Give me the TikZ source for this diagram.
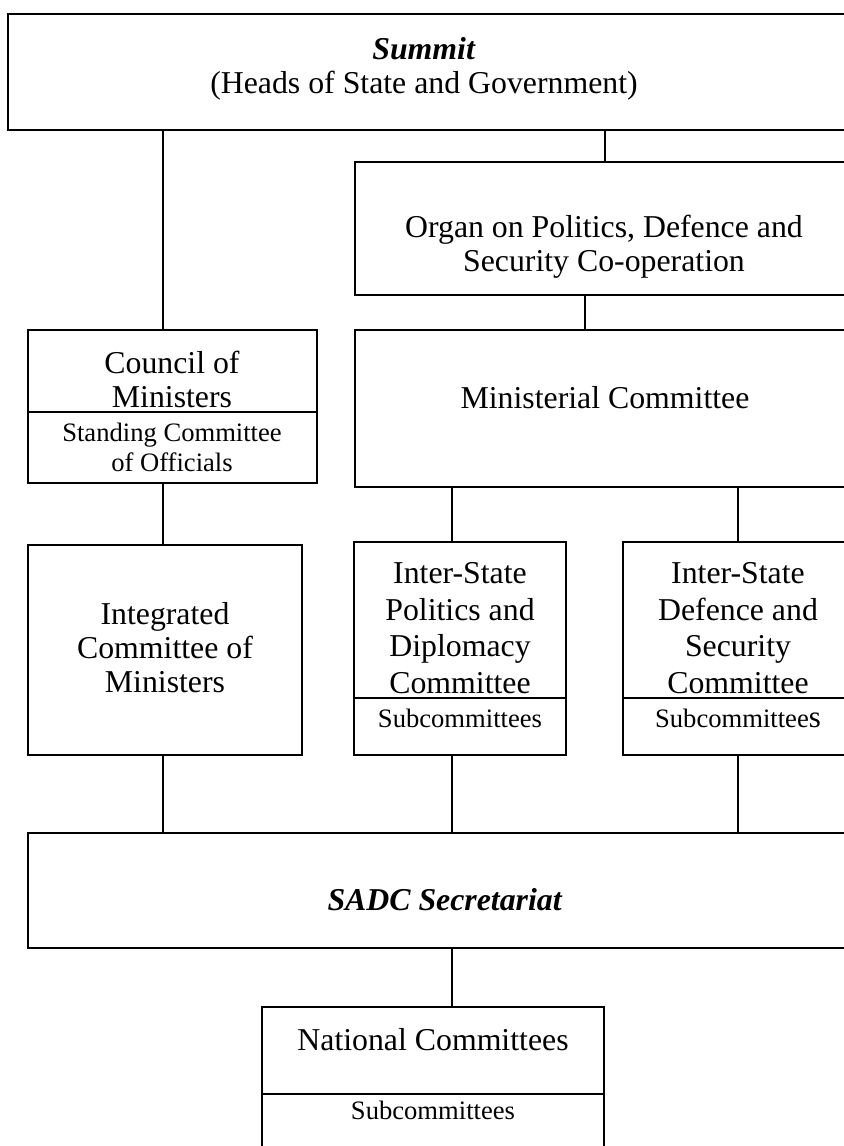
\documentclass[tikz,border=0pt]{standalone}
\usepackage{fontspec}
\setmainfont{Liberation Serif}
\usetikzlibrary{fit}

\tikzset{
  box/.style={draw, line width=1pt, inner sep=0pt},
  txt/.style={font=\fontsize{15.9}{17}\selectfont, align=center, inner sep=0pt},
  tall/.style={font=\fontsize{15.9}{18.3}\selectfont, align=center, inner sep=0pt},
  small/.style={font=\fontsize{13.3}{15}\selectfont, align=center, inner sep=0pt},
  link/.style={line width=1pt}
}

\begin{document}
\begin{tikzpicture}[x=0.5pt, y=-0.5pt]
\useasboundingbox (0,0) rectangle (844,1146);
\clip (0,0) rectangle (844,1146);
% boxes
\node [box, fit={(8,14) (870,130)}] (summit) {};
\node [box, fit={(355,162) (855,295)}] (organ) {};
\node [box, fit={(28,330) (317,483)}] (council) {};
\node [box, fit={(355,330) (855,487)}] (minist) {};
\node [box, fit={(28,545) (302,755)}] (integ) {};
\node [box, fit={(354,542) (566,755)}] (isp) {};
\node [box, fit={(623,542) (853,755)}] (isd) {};
\node [box, fit={(28,833) (863,948)}] (sadc) {};
\node [box, fit={(262,1007) (604,1180)}] (nat) {};
% dividers
\draw [link] (council.west |- 0,412) -- (council.east |- 0,412);
\draw [link] (isp.west |- 0,698) -- (isp.east |- 0,698);
\draw [link] (isd.west |- 0,698) -- (isd.east |- 0,698);
\draw [link] (nat.west |- 0,1094) -- (nat.east |- 0,1094);
% texts
\node [txt] (summit-t) at (424,69) {\textbf{\textit{Summit}}\\(Heads of State and Government)};
\node [txt] (organ-t) at (604,247) {Organ on Politics, Defence and\\Security Co-operation};
\node [txt] (council-t) at (172,379) {Council of\\Ministers};
\node [small] (council-s) at (172,447) {Standing Committee\\of Officials};
\node [txt] (minist-t) at (605,398) {Ministerial Committee};
\node [txt] (integ-t) at (165,648) {Integrated\\Committee of\\Ministers};
\node [tall] (isp-t) at (460,628) {Inter-State\\Politics and\\Diplomacy\\Committee};
\node [small] (isp-s) at (460,718) {Subcommittees};
\node [tall] (isd-t) at (738,628) {Inter-State\\Defence and\\Security\\Committee};
\node [small] (isd-s) at (738,718) {Subcommittee{\fontsize{15.5}{15}\selectfont s}};
\node [txt] (sadc-t) at (445,900) {\textbf{\textit{SADC Secretariat}}};
\node [txt] (nat-t) at (433,1040) {National Committees};
\node [small] (nat-s) at (433,1110) {Subcommittees};
% connectors
\coordinate (xa) at (163,0);
\coordinate (xb) at (452,0);
\coordinate (xc) at (738,0);
\coordinate (xd) at (605,0);
\coordinate (xe) at (585,0);
\draw [link] (summit.south -| xa) -- (council.north -| xa);
\draw [link] (summit.south -| xd) -- (organ.north -| xd);
\draw [link] (organ.south -| xe) -- (minist.north -| xe);
\draw [link] (council.south -| xa) -- (integ.north -| xa);
\draw [link] (minist.south -| xb) -- (isp.north -| xb);
\draw [link] (minist.south -| xc) -- (isd.north -| xc);
\draw [link] (integ.south -| xa) -- (sadc.north -| xa);
\draw [link] (isp.south -| xb) -- (sadc.north -| xb);
\draw [link] (isd.south -| xc) -- (sadc.north -| xc);
\draw [link] (sadc.south -| xb) -- (nat.north -| xb);
\end{tikzpicture}
\end{document}
